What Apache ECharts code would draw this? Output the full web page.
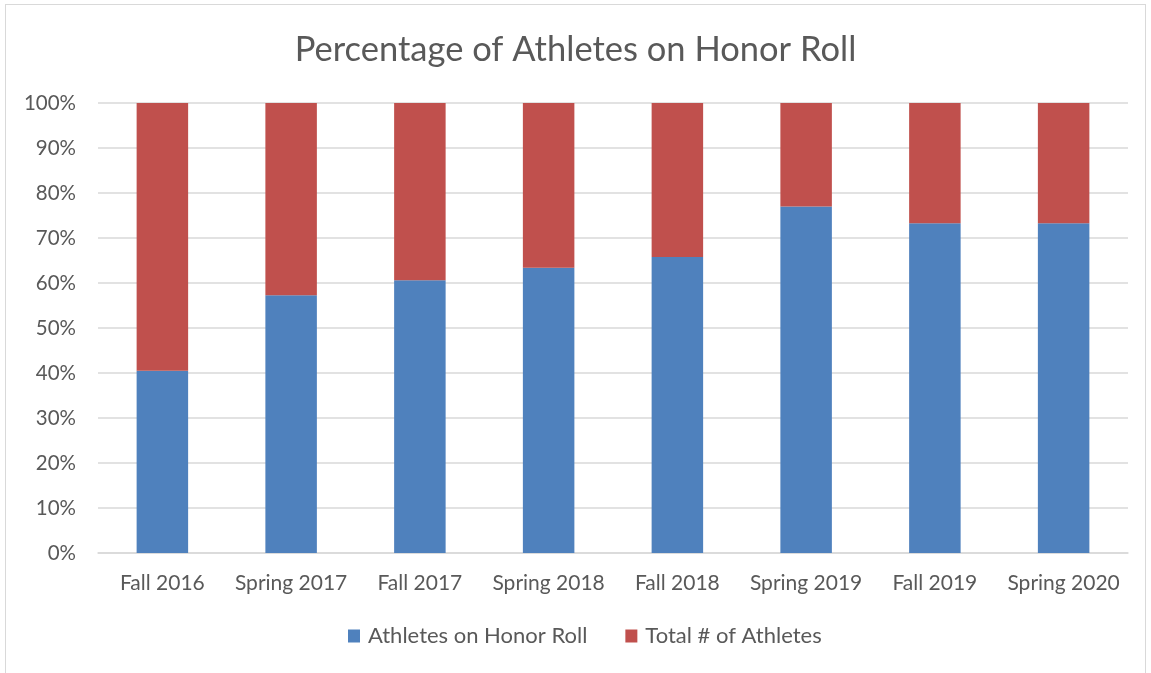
<!DOCTYPE html>
<html>
<head>
<meta charset="utf-8">
<script src="https://cdn.jsdelivr.net/npm/echarts@6/dist/echarts.min.js"></script>
<style>
  html, body { margin: 0; padding: 0; background: #ffffff; }
  #frame { position: absolute; left: 5px; top: 4px; width: 1141px; height: 690px; border: 1px solid #d9d9d9; box-sizing: border-box; }
  #chart { position: absolute; left: 0; top: 0; width: 1151px; height: 673px; }
</style>
</head>
<body>
<div id="frame"></div>
<div id="chart"></div>
<script>
// Semesters along the x axis
const semesters = ['Fall 2016', 'Spring 2017', 'Fall 2017', 'Spring 2018', 'Fall 2018', 'Spring 2019', 'Fall 2019', 'Spring 2020'];
// Share of athletes on the honor roll (percent)
const honorRollPct = [40.5, 57.3, 60.6, 63.4, 65.8, 77.0, 73.3, 73.3];
// Remaining share stacked above it (percent)
const remainderPct = [59.5, 42.7, 39.4, 36.6, 34.2, 23.0, 26.7, 26.7];
const seriesNames = ['Athletes on Honor Roll', 'Total # of Athletes'];

const FONT = 'Lato, "Open Sans", sans-serif';
const TEXT = '#595959';

const chart = echarts.init(document.getElementById('chart'), null, { renderer: 'canvas' });
chart.setOption({
  animation: false,
  textStyle: { fontFamily: FONT },
  title: {
    text: 'Percentage of Athletes on Honor Roll',
    left: 'center',
    top: 27,
    textStyle: { fontFamily: FONT, fontSize: 34.5, fontWeight: 'normal', color: TEXT }
  },
  legend: {
    bottom: 21,
    left: 343,
    itemWidth: 12,
    itemHeight: 13,
    itemGap: 38,
    icon: 'rect',
    textStyle: { fontFamily: FONT, fontSize: 22, color: TEXT, padding: [0, 0, 0, 3] },
    data: seriesNames
  },
  grid: { left: 98, right: 23, top: 103, bottom: 120 },
  xAxis: {
    type: 'category',
    data: semesters,
    axisLine: { lineStyle: { color: '#d9d9d9', width: 1.5 } },
    axisTick: { show: false },
    axisLabel: { fontFamily: FONT, fontSize: 21, color: TEXT, margin: 20, interval: 0, hideOverlap: false }
  },
  yAxis: {
    type: 'value',
    min: 0,
    max: 100,
    interval: 10,
    axisLine: { show: false },
    axisTick: { show: false },
    splitLine: { lineStyle: { color: '#d9d9d9', width: 1.5 } },
    axisLabel: { fontFamily: FONT, fontSize: 20.5, color: TEXT, margin: 22, formatter: '{value}%' }
  },
  series: [
    {
      name: seriesNames[0],
      type: 'bar',
      stack: 'share',
      barWidth: '40%',
      itemStyle: { color: '#4f81bd' },
      data: honorRollPct
    },
    {
      name: seriesNames[1],
      type: 'bar',
      stack: 'share',
      barWidth: '40%',
      itemStyle: { color: '#c0504d' },
      data: remainderPct
    }
  ]
});
</script>
</body>
</html>
